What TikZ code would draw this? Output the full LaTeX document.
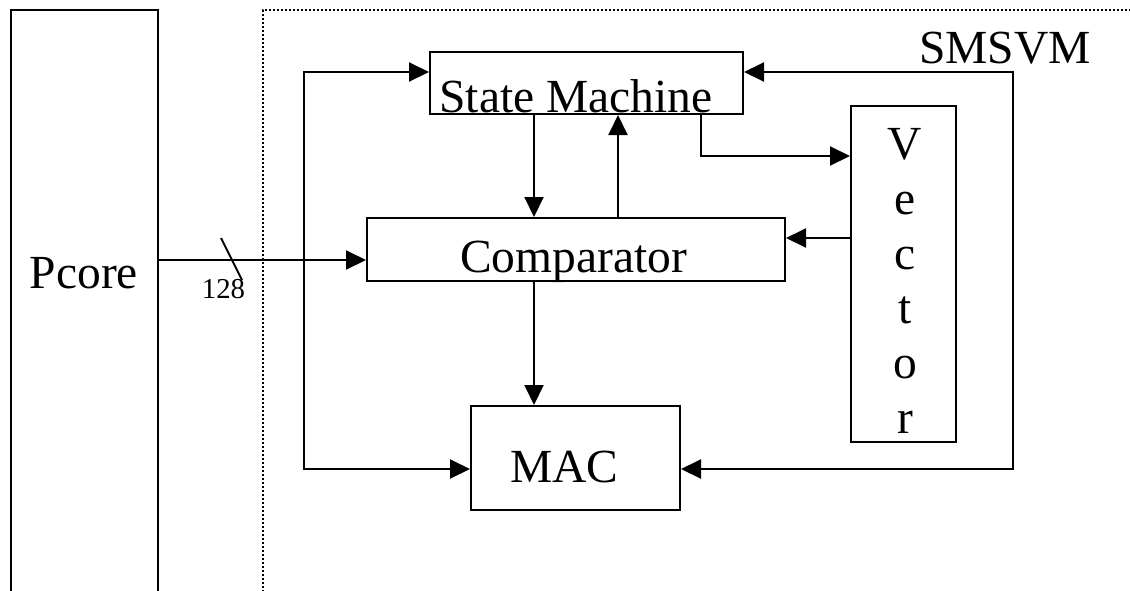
\documentclass[tikz,border=0pt]{standalone}
\usepackage{fontspec}
\setmainfont{Liberation Serif}
\usetikzlibrary{arrows.meta}
\newcommand{\bigfont}{\fontsize{23.75}{27.4}\selectfont}
\newcommand{\busfont}{\fontsize{14.4}{16}\selectfont}
\begin{document}
\begin{tikzpicture}[x=0.5pt,y=-0.5pt,line width=1pt,>={Triangle[length=10pt,width=9.5pt]},
  box/.style={draw,rectangle,inner sep=0pt},
  txt/.style={anchor=base,font=\bigfont,inner sep=0pt}]
\clip (0,0) rectangle (1130,590);

% pcore and SMSVM frames
\draw (11,600) |- (158,10) -- (158,600);
\draw[densely dotted] (263,600) |- (1140,10);
\node[txt] (pcore) at (84,288) {Pcore};
\node[txt] (smsvm) at (1005,63) {SMSVM};

\node[box, minimum width=156.5pt, minimum height=31pt] (sm) at (586.5,83) {};
\node[box, minimum width=209pt, minimum height=31.5pt] (cmp) at (576,249.5) {};
\node[box, minimum width=104.5pt, minimum height=52pt] (mac) at (575.5,458) {};
\node[box, minimum width=52.5pt, minimum height=168pt] (vec) at (903.5,274) {};

\node[txt] (smtxt) at (576,112) {State Machine};
\node[txt] (cmptxt) at (573.5,272) {Comparator};
\node[txt] (mactxt) at (564.5,482) {MAC};
\node[align=center, font=\bigfont, inner sep=0pt] (vectxt) at (905,281) {V\\e\\c\\t\\o\\r};

\coordinate (bus) at (158,260);
\coordinate (tick) at (232,260);
\coordinate (d1) at (534,0);
\coordinate (u1) at (618,0);
\coordinate (t1) at (701,156);
\coordinate (t2) at (0,238);

\path[draw,->] (bus) -- (cmp.west |- bus);
\path[draw] ([shift={(-11,-22)}]tick) -- ([shift={(10,20)}]tick);
\node[anchor=base,font=\busfont,inner sep=0pt] (width) at (223.5,298) {128};
\path[draw,->] (sm.south -| d1) -- (cmp.north -| d1);
\path[draw,->] (cmp.north -| u1) -- (sm.south -| u1);
\path[draw,->] (cmp.south -| d1) -- (mac.north -| d1);
\path[draw,->] (sm.south -| t1) |- (vec.west |- t1);
\path[draw,->] (vec.west |- t2) -- (cmp.east |- t2);
\path[draw,<->] ([yshift=5.5pt]sm.west) -| (304,469) -- ([yshift=-5.5pt]mac.west);
\path[draw,<->] ([yshift=5.5pt]sm.east) -| (1013,469) -- ([yshift=-5.5pt]mac.east);
\end{tikzpicture}
\end{document}
